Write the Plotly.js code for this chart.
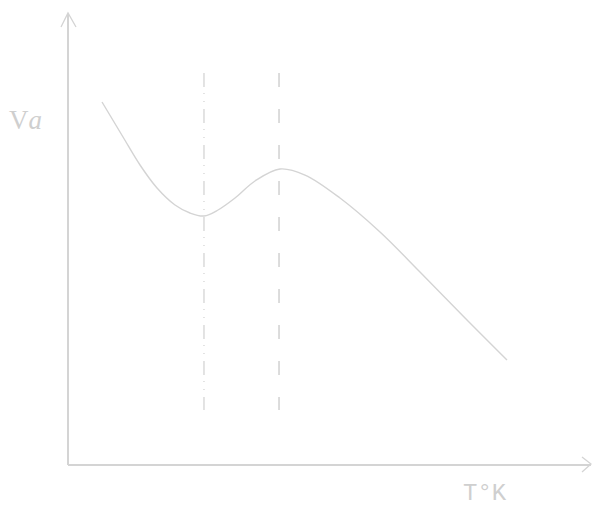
<!DOCTYPE html>
<html>
<head>
<meta charset="utf-8">
<script src="https://cdn.plot.ly/plotly-3.0.1.min.js"></script>
<style>html,body{margin:0;padding:0;background:#fff;}#chart{width:592px;height:509px;}</style>
</head>
<body>
<div id="chart"></div>
<script>
// Curve Va(T), arbitrary units
var curveT = [0.654, 1.058, 1.385, 1.712, 2.058, 2.346, 2.615, 2.885, 3.212, 3.596, 4.077, 4.558, 5.231, 6.0, 6.769, 7.635, 8.442];
var curveV = [8.067, 7.289, 6.667, 6.156, 5.778, 5.6, 5.533, 5.667, 5.933, 6.311, 6.578, 6.444, 5.933, 5.178, 4.289, 3.267, 2.333];
// vertical marker lines (minimum and maximum)
var minLineT = [2.615, 2.615];
var maxLineT = [4.058, 4.058];
var markerV = [8.71, 1.22];

var col = '#d4d4d4';
var L = 68, W = 520, B = 465, H = 450;
function px(x){return (x - L)/W;}
function py(y){return (B - y)/H;}

var traces = [
  {x: curveT, y: curveV, mode: 'lines', line: {color: col, width: 1.4, shape: 'spline', smoothing: 1}, hoverinfo: 'skip'},
  {x: minLineT, y: markerV, mode: 'lines', line: {color: col, width: 1.3, dash: '14px,6px,1px,7px,1px,7px'}, hoverinfo: 'skip'},
  {x: maxLineT, y: markerV, mode: 'lines', line: {color: col, width: 1.6, dash: '14px,22px'}, hoverinfo: 'skip'}
];

var layout = {
  width: 592, height: 509,
  margin: {l: L, r: 592 - L - W, t: B - H, b: 509 - B},
  paper_bgcolor: '#ffffff', plot_bgcolor: '#ffffff',
  showlegend: false,
  xaxis: {range: [0, 10], visible: false, fixedrange: true},
  yaxis: {range: [0, 10], visible: false, fixedrange: true},
  shapes: [
    {type: 'line', xref: 'paper', yref: 'paper', x0: px(68), y0: py(465), x1: px(68), y1: py(14), line: {color: col, width: 2}},
    {type: 'line', xref: 'paper', yref: 'paper', x0: px(68), y0: py(465), x1: px(591), y1: py(465), line: {color: col, width: 2}},
    {type: 'path', xref: 'paper', yref: 'paper',
     path: 'M ' + px(61) + ' ' + py(27) + ' L ' + px(68) + ' ' + py(13) + ' L ' + px(76) + ' ' + py(27),
     line: {color: col, width: 1.3}},
    {type: 'path', xref: 'paper', yref: 'paper',
     path: 'M ' + px(582) + ' ' + py(457) + ' L ' + px(591) + ' ' + py(464) + ' L ' + px(582) + ' ' + py(472),
     line: {color: col, width: 1.3}}
  ],
  annotations: [
    {xref: 'paper', yref: 'paper', x: px(8), y: py(120), xanchor: 'left', yanchor: 'middle', showarrow: false, borderpad: 0,
     text: 'V<i>a</i>', font: {family: 'Times New Roman, serif', size: 27, color: '#cfcfcf'}},
    {xref: 'paper', yref: 'paper', x: px(462), y: py(493), xanchor: 'left', yanchor: 'middle', showarrow: false, borderpad: 0,
     text: 'T°K', font: {family: 'Courier New, monospace', size: 24, color: '#cfcfcf'}}
  ]
};

Plotly.newPlot('chart', traces, layout, {displayModeBar: false, staticPlot: true});
</script>
</body>
</html>
